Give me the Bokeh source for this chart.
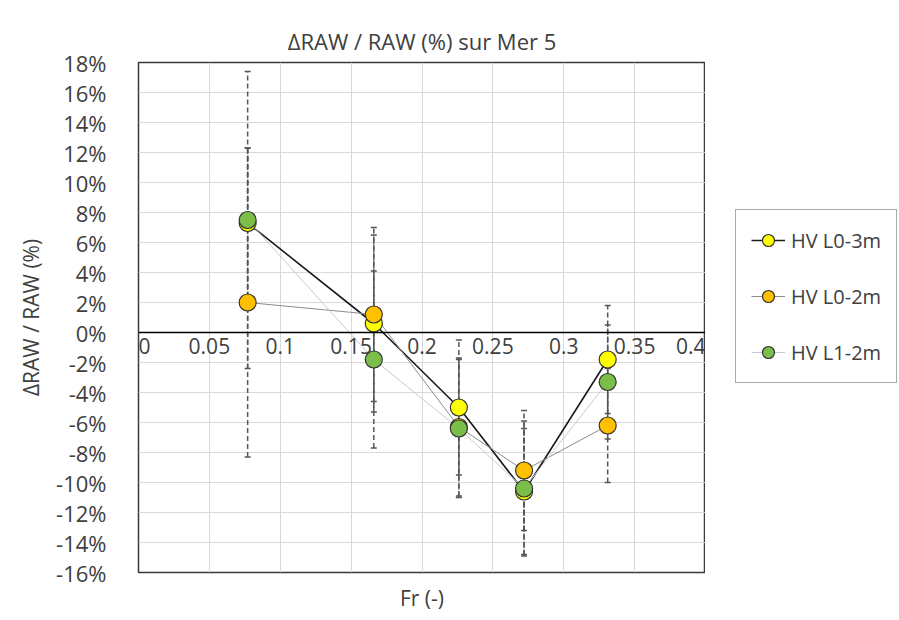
from bokeh.plotting import figure
from bokeh.layouts import row
from bokeh.models import (ColumnDataSource, Whisker, TeeHead, Legend, LegendItem,
                          FixedTicker, PrintfTickFormatter, Title, LabelSet)
from bokeh.core.properties import value, field
from bokeh.embed import file_html
from bokeh.resources import INLINE

# ---- data ----
fr = [0.077, 0.166, 0.226, 0.272, 0.331]
series_names = ["HV L0-3m", "HV L0-2m", "HV L1-2m"]
y_l03 = [7.3, 0.6, -5.0, -10.6, -1.8]
y_l02 = [2.0, 1.2, -6.3, -9.2, -6.2]
y_l12 = [7.5, -1.8, -6.4, -10.4, -3.3]
err_l03 = [5.0, 5.9, 4.5, 4.2, 3.6]
err_l02 = [10.3, 5.8, 4.6, 4.0, 3.8]
err_l12 = [9.9, 5.9, 4.6, 4.5, 3.8]
x_ticks = [0, 0.05, 0.1, 0.15, 0.2, 0.25, 0.3, 0.35, 0.4]
x_tick_labels = ["0", "0.05", "0.1", "0.15", "0.2", "0.25", "0.3", "0.35", "0.4"]
y_ticks = list(range(-16, 19, 2))

FONT = "Open Sans"
TXT = "#404040"

p = figure(frame_width=567, frame_height=510, x_range=(0, 0.4), y_range=(-16, 18),
           output_backend="svg", toolbar_location=None,
           min_border_left=138, min_border_top=62, min_border_bottom=10, min_border_right=0,
           background_fill_color="white", border_fill_color="white")
p.outline_line_color = "#3a3a3a"
p.outline_line_width = 1.5

p.title.text = "ΔRAW / RAW (%) sur Mer 5"
p.title.align = "center"
p.title.text_font = FONT
p.title.text_font_size = "22px"
p.title.text_font_style = "normal"
p.title.text_color = TXT
p.title.standoff = 14

# grid
p.xgrid.ticker = FixedTicker(ticks=x_ticks)
p.ygrid.ticker = FixedTicker(ticks=y_ticks)
p.grid.grid_line_color = "#d9d9d9"
p.grid.grid_line_width = 1

# x axis crossing at y=0 (labels drawn as a LabelSet; the end labels are aligned inward)
xa = p.xaxis[0]
xa.ticker = FixedTicker(ticks=x_ticks)
xa.fixed_location = 0
xa.axis_line_color = "black"
xa.axis_line_width = 1.5
xa.major_tick_line_color = None
xa.minor_tick_line_color = None
xa.major_label_text_font_size = "0px"
xa.major_label_text_alpha = 0

aligns = ["left"] + ["center"] * (len(x_ticks) - 2) + ["right"]
xlab_src = ColumnDataSource(dict(x=x_ticks, y=[0] * len(x_ticks), t=x_tick_labels, al=aligns))
p.add_layout(LabelSet(x="x", y="y", text="t", source=xlab_src, y_offset=-5,
                      text_align=field("al"), text_baseline="top", text_font=value(FONT),
                      text_font_size=value("21px"), text_color=TXT))

ya = p.yaxis[0]
ya.ticker = FixedTicker(ticks=y_ticks)
ya.formatter = PrintfTickFormatter(format="%d%%")
ya.axis_line_color = None
ya.major_tick_line_color = None
ya.minor_tick_line_color = None
ya.major_label_text_font = FONT
ya.major_label_text_font_size = "22px"
ya.major_label_text_color = TXT
ya.major_label_standoff = 26
ya.axis_label = "ΔRAW / RAW (%)"
ya.axis_label_text_font = FONT
ya.axis_label_text_font_size = "21px"
ya.axis_label_text_font_style = "normal"
ya.axis_label_text_color = TXT
ya.axis_label_standoff = 8

p.add_layout(Title(text="Fr (-)", align="center", text_font=FONT, text_font_size="21px",
                   text_font_style="normal", text_color=TXT, standoff=18), "below")

series = [
    (y_l03, err_l03, "#FFFF00", "#1a1a1a", 1.6),
    (y_l02, err_l02, "#FFC000", "#8c8c8c", 1.0),
    (y_l12, err_l12, "#7BBF4A", "#c8c8d8", 1.0),
]

for name, (ys, es, fill, lc, lw) in zip(series_names, series):
    src = ColumnDataSource(dict(x=fr, y=ys,
                                lo=[a - b for a, b in zip(ys, es)],
                                hi=[a + b for a, b in zip(ys, es)]))
    w = Whisker(base="x", lower="lo", upper="hi", source=src,
                line_color="#555555", line_width=1.5, line_dash="5 3",
                upper_head=TeeHead(size=6, line_color="#555555", line_width=1.5),
                lower_head=TeeHead(size=6, line_color="#555555", line_width=1.5))
    p.add_layout(w)

sources = [ColumnDataSource(dict(x=fr, y=ys)) for (ys, es, fill, lc, lw) in series]
for src, (ys, es, fill, lc, lw) in zip(sources, series):
    p.line("x", "y", source=src, line_color=lc, line_width=lw)
for src, (ys, es, fill, lc, lw) in zip(sources, series):
    p.scatter("x", "y", source=src, size=17, fill_color=fill,
              line_color="#333333", line_width=1.2)

# ---- legend in a side figure: same sources, ranges chosen so no data is in view ----
lg = figure(width=194, height=620, output_backend="svg", toolbar_location=None,
            x_range=(10, 11), y_range=(100, 101), min_border=0,
            background_fill_color="white", border_fill_color="white")
lg.axis.visible = False
lg.grid.visible = False
lg.outline_line_color = None
items = []
for name, src, (ys, es, fill, lc, lw) in zip(series_names, sources, series):
    l1 = lg.line("x", "y", source=src, line_color=lc, line_width=lw)
    l2 = lg.scatter("x", "y", source=src, size=14, fill_color=fill,
                    line_color="#333333", line_width=1.2)
    items.append(LegendItem(label=name, renderers=[l1, l2]))

legend = Legend(items=items, location=(30, 189), margin=0, padding=15, spacing=26,
                label_text_font=FONT, label_text_font_size="20px", label_text_color=TXT,
                border_line_color="#555555", border_line_width=1.2,
                glyph_width=34, glyph_height=30, label_standoff=6)
lg.add_layout(legend, "center")

layout = row(p, lg, spacing=0)
open("out.html", "w").write(file_html(layout, INLINE))
